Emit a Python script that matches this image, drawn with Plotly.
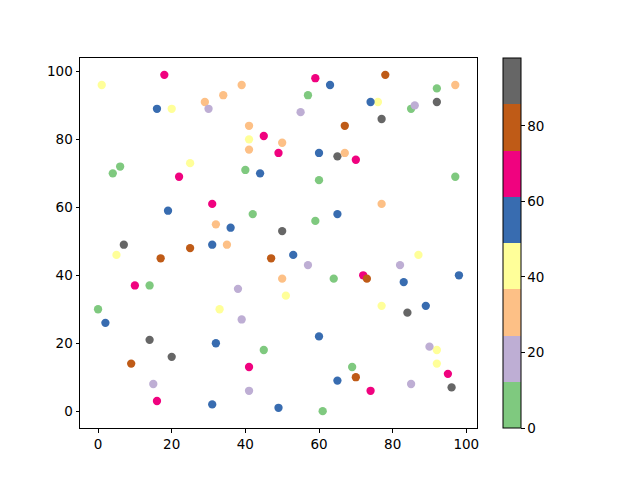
"""Scatter of 100 points coloured with a stepped Accent colour scale and a colour bar."""

from plotly import graph_objects as go

# x, y and colour value of each point (colour read from the Accent bin it falls in)
x_vals = [1, 18, 16, 20, 29, 30, 34, 39, 41, 41, 45, 41, 49, 50, 6, 4, 25, 22, 40, 44,
          31, 19, 42, 32, 36, 50, 7, 25, 31, 35, 59, 63, 78, 57, 76, 74, 55, 92, 97, 92,
          85, 86, 77, 67, 60, 65, 67, 70, 60, 97, 77, 65, 59, 5, 17, 47, 50, 10, 14, 38,
          0, 33, 2, 39, 14, 32, 45, 20, 9, 41, 15, 41, 16, 31, 49, 53, 57, 51, 64, 72,
          73, 87, 82, 83, 98, 77, 84, 89, 60, 92, 90, 92, 95, 96, 69, 70, 65, 85, 74, 61]
y_vals = [96, 99, 89, 89, 91, 89, 93, 96, 84, 80, 81, 77, 76, 79, 72, 70, 73, 69, 71, 70,
          61, 59, 58, 55, 54, 53, 49, 48, 49, 49, 98, 96, 99, 93, 91, 91, 88, 95, 96, 91,
          89, 90, 86, 84, 76, 75, 76, 74, 68, 69, 61, 58, 56, 46, 45, 45, 39, 37, 37, 36,
          30, 30, 26, 27, 21, 20, 18, 16, 14, 13, 8, 6, 3, 2, 1, 46, 43, 34, 39, 40,
          39, 46, 43, 38, 40, 31, 29, 31, 22, 18, 19, 14, 11, 7, 13, 10, 9, 8, 6, 0]
c_vals = [43, 67, 55, 43, 30, 18, 30, 30, 30, 43, 67, 30, 67, 30, 6, 6, 43, 67, 6, 55,
          67, 55, 6, 30, 55, 92, 92, 80, 55, 30, 67, 55, 80, 6, 43, 55, 18, 6, 30, 92,
          6, 18, 92, 80, 55, 92, 30, 67, 6, 6, 30, 55, 6, 43, 80, 80, 30, 67, 6, 18,
          6, 43, 55, 18, 92, 55, 6, 92, 80, 67, 18, 18, 67, 55, 55, 55, 18, 43, 6, 67,
          80, 43, 18, 55, 55, 43, 92, 55, 55, 43, 18, 43, 67, 92, 6, 80, 55, 18, 67, 6]

accent = ["#7fc97f", "#beaed4", "#fdc086", "#ffff99",
          "#386cb0", "#f0027f", "#bf5b17", "#666666"]
c_min, c_max = 0, 98

# stepped colour scale so the bar shows eight flat bands
scale = []
for i, col in enumerate(accent):
    scale.append([i / len(accent), col])
    scale.append([(i + 1) / len(accent), col])

fig = go.Figure()
fig.add_trace(go.Scatter(
    x=x_vals, y=y_vals, mode="markers",
    marker=dict(
        size=8.3,
        color=c_vals,
        colorscale=scale,
        cmin=c_min, cmax=c_max,
        showscale=True,
        colorbar=dict(
            x=1.0655, xanchor="left", xpad=0,
            y=0.5, yanchor="middle", ypad=0,
            len=1, lenmode="fraction",
            thickness=18,
            outlinewidth=1, outlinecolor="black",
            ticks="outside", ticklen=3.5, tickwidth=1, tickcolor="black",
            tickvals=[0, 20, 40, 60, 80],
            tickfont=dict(family="DejaVu Sans", size=13.5, color="black"),
        ),
    ),
))

axis_style = dict(
    showgrid=False, zeroline=False,
    showline=True, mirror=True, linecolor="black", linewidth=1,
    ticks="outside", ticklen=3.5, tickwidth=1, tickcolor="black",
    tickvals=[0, 20, 40, 60, 80, 100],
    tickfont=dict(family="DejaVu Sans", size=13.5, color="black"),
)

# the page body adds an 8px offset, so the left/top margins are trimmed by that
fig.update_layout(
    width=640, height=480,
    margin=dict(l=72, r=171, t=50, b=60),
    paper_bgcolor="white", plot_bgcolor="white",
    showlegend=False,
    xaxis=dict(range=[-4.9, 102.9], **axis_style),
    yaxis=dict(range=[-4.95, 103.95], **axis_style),
)

fig.write_html("out.html")
